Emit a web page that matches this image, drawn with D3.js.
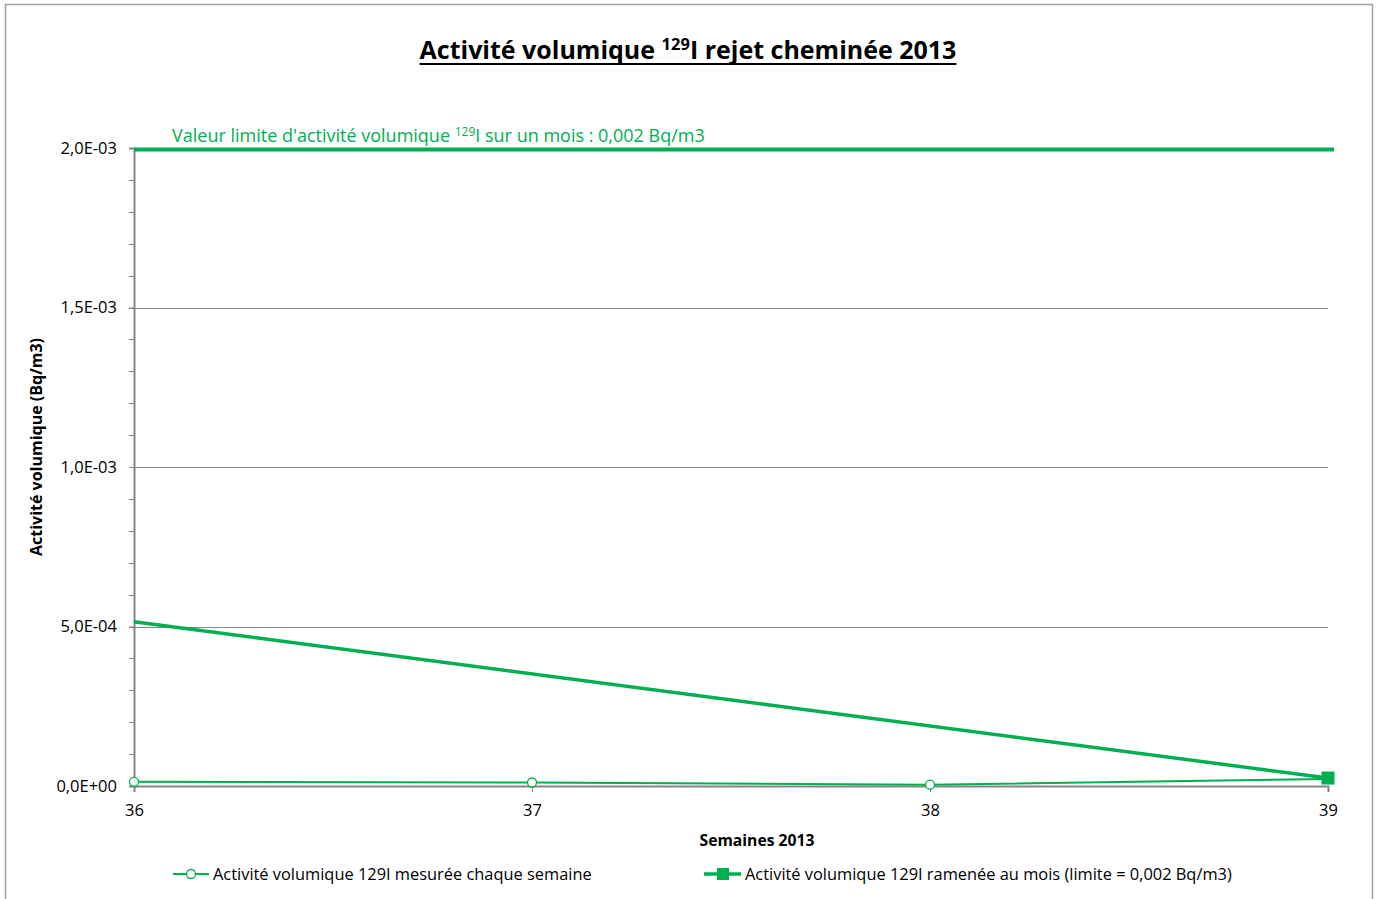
<!DOCTYPE html>
<html>
<head>
<meta charset="utf-8">
<script src="https://cdn.jsdelivr.net/npm/d3@7"></script>
<style>
  body { margin: 0; background: #fff; }
  text { font-family: 'Open Sans', 'Noto Sans', sans-serif; }
</style>
</head>
<body>
<script>
// chart data
let weeks = [36, 37, 38, 39]
let weeklyValues = [1.3e-5, 1.1e-5, 4e-6, 2.2e-5]
let monthlyValues = [5.15e-4, null, null, 2.5e-5]
let limitValue = 2e-3
let yTicks = [0, 5e-4, 1e-3, 1.5e-3, 2e-3]
let yTickLabels = ['0,0E+00', '5,0E-04', '1,0E-03', '1,5E-03', '2,0E-03']
let seriesNames = [
  'Activité volumique 129I mesurée chaque semaine',
  'Activité volumique 129I ramenée au mois (limite = 0,002 Bq/m3)'
]

var width = 1377
var height = 899
var green = '#00b050'
var grey = '#868686'

var svg = d3.select('body').append('svg')
  .attr('width', width)
  .attr('height', height)

// outer frame
svg.append('rect')
  .attr('x', 5.5).attr('y', 4.5)
  .attr('width', 1367).attr('height', 900)
  .attr('fill', 'white')
  .attr('stroke', '#a0a0a0')
  .attr('stroke-width', 1.5)

var x = d3.scaleLinear().domain([36, 39]).range([134, 1328])
var y = d3.scaleLinear().domain([0, 2e-3]).range([786, 148])

// title
var title = svg.append('text')
  .attr('x', 688).attr('y', 59)
  .attr('text-anchor', 'middle')
  .attr('font-size', 25)
  .attr('font-weight', 'bold')
title.append('tspan').text('Activité volumique ')
title.append('tspan').attr('font-size', 16.5).attr('dy', -9).text('129')
title.append('tspan').attr('dy', 9).text('I rejet cheminée 2013')
var tb = title.node().getBBox()
svg.append('line')
  .attr('x1', tb.x).attr('x2', tb.x + tb.width)
  .attr('y1', 64).attr('y2', 64)
  .attr('stroke', '#000').attr('stroke-width', 2)

// gridlines
svg.append('g').selectAll('line')
  .data(yTicks.slice(1))
  .enter().append('line')
  .attr('x1', 134).attr('x2', 1328)
  .attr('y1', function (d) { return Math.round(y(d)) + 0.5 })
  .attr('y2', function (d) { return Math.round(y(d)) + 0.5 })
  .attr('stroke', grey)
  .attr('stroke-width', 1)

// y axis with minor ticks
var minor = d3.range(0, 2.0001e-3, 1e-4)
svg.append('g').selectAll('line')
  .data(minor)
  .enter().append('line')
  .attr('x1', 129).attr('x2', 134)
  .attr('y1', function (d) { return Math.round(y(d)) + 0.5 })
  .attr('y2', function (d) { return Math.round(y(d)) + 0.5 })
  .attr('stroke', grey)

var yAxis = d3.axisLeft(y)
  .tickValues(yTicks)
  .tickFormat(function (d, i) { return yTickLabels[i] })
  .tickSize(5)
  .tickPadding(12)
var gy = svg.append('g').attr('transform', 'translate(134,0)').call(yAxis)
gy.select('.domain').attr('stroke', grey).attr('stroke-width', 2)
gy.selectAll('.tick line').attr('stroke', grey)
gy.selectAll('text').attr('font-size', 16.5).attr('fill', '#000')

// x axis
var xAxis = d3.axisBottom(x)
  .tickValues(weeks)
  .tickFormat(d3.format('d'))
  .tickSize(6)
  .tickPadding(12)
var gx = svg.append('g').attr('transform', 'translate(0,786)').call(xAxis)
gx.select('.domain').attr('stroke', grey).attr('stroke-width', 2)
gx.selectAll('.tick line').attr('stroke', grey)
gx.selectAll('text').attr('font-size', 16.5).attr('fill', '#000')

// axis titles
svg.append('text')
  .attr('transform', 'translate(42,447) rotate(-90)')
  .attr('text-anchor', 'middle')
  .attr('font-size', 16)
  .attr('font-weight', 'bold')
  .text('Activité volumique (Bq/m3)')

svg.append('text')
  .attr('x', 757).attr('y', 846)
  .attr('text-anchor', 'middle')
  .attr('font-size', 15.7)
  .attr('font-weight', 'bold')
  .text('Semaines 2013')

// limit line
svg.append('line')
  .attr('x1', x(36)).attr('x2', 1334)
  .attr('y1', y(limitValue) + 1.5).attr('y2', y(limitValue) + 1.5)
  .attr('stroke', green)
  .attr('stroke-width', 4)

var lim = svg.append('text')
  .attr('x', 172).attr('y', 142)
  .attr('font-size', 18)
  .attr('fill', green)
lim.append('tspan').text("Valeur limite d'activité volumique ")
lim.append('tspan').attr('font-size', 12).attr('dy', -6).text('129')
lim.append('tspan').attr('dy', 6).text('I sur un mois : 0,002 Bq/m3')

// monthly series (gaps bridged like the source)
var monthlyPts = weeks.map(function (w, i) { return [w, monthlyValues[i]] })
  .filter(function (d) { return d[1] !== null })
var line = d3.line()
  .x(function (d) { return x(d[0]) })
  .y(function (d) { return y(d[1]) })

svg.append('path')
  .datum(monthlyPts)
  .attr('d', line)
  .attr('fill', 'none')
  .attr('stroke', green)
  .attr('stroke-width', 3.5)

// weekly series
var weeklyPts = weeks.map(function (w, i) { return [w, weeklyValues[i]] })
svg.append('path')
  .datum(weeklyPts)
  .attr('d', line)
  .attr('fill', 'none')
  .attr('stroke', green)
  .attr('stroke-width', 2)

svg.append('g').selectAll('circle')
  .data(weeklyPts)
  .enter().append('circle')
  .attr('cx', function (d) { return x(d[0]) })
  .attr('cy', function (d) { return y(d[1]) })
  .attr('r', 4.5)
  .attr('fill', 'white')
  .attr('stroke', green)
  .attr('stroke-width', 1.3)

// monthly marker only on the last point
var lastM = monthlyPts[monthlyPts.length - 1]
svg.append('rect')
  .attr('x', x(lastM[0]) - 6.5).attr('y', y(lastM[1]) - 6.5)
  .attr('width', 13).attr('height', 13)
  .attr('fill', green)

// legend
var leg1 = svg.append('g').attr('transform', 'translate(173,874)')
leg1.append('line').attr('x1', 0).attr('x2', 36).attr('stroke', green).attr('stroke-width', 2)
leg1.append('circle').attr('cx', 18).attr('r', 4.5).attr('fill', 'white')
  .attr('stroke', green).attr('stroke-width', 1.3)
leg1.append('text').attr('x', 40).attr('y', 6).attr('font-size', 16.4).text(seriesNames[0])

var leg2 = svg.append('g').attr('transform', 'translate(704,874)')
leg2.append('line').attr('x1', 0).attr('x2', 37).attr('stroke', green).attr('stroke-width', 3.5)
leg2.append('rect').attr('x', 13).attr('y', -6).attr('width', 12).attr('height', 12).attr('fill', green)
leg2.append('text').attr('x', 41).attr('y', 6).attr('font-size', 16.4).text(seriesNames[1])
</script>
</body>
</html>
